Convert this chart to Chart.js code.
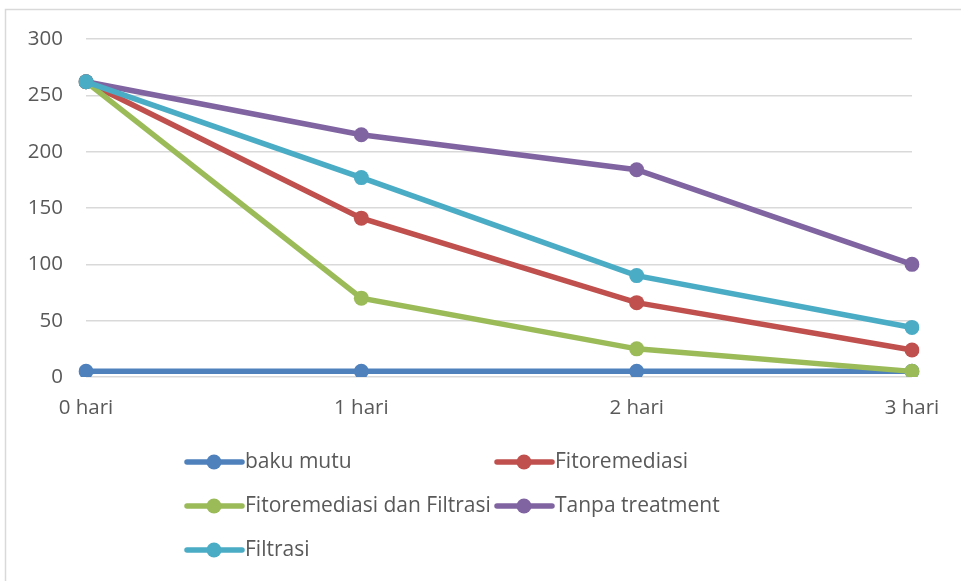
<!DOCTYPE html>
<html>
<head>
<meta charset="utf-8">
<script src="https://cdn.jsdelivr.net/npm/chart.js@4/dist/chart.umd.min.js"></script>
<style>
  html, body { margin: 0; padding: 0; background: #fff; overflow: hidden; }
  #wrap { position: relative; width: 961px; height: 581px; }
</style>
</head>
<body>
<div id="wrap"><canvas id="c" width="961" height="581"></canvas></div>
<script>
// Categories (days of treatment)
const days = ['0 hari', '1 hari', '2 hari', '3 hari'];

// Series values
const bakuMutu       = [5, 5, 5, 5];
const fitoremediasi  = [262, 141, 66, 24];
const fitoFiltrasi   = [262, 70, 25, 5];
const tanpaTreatment = [262, 215, 184, 100];
const filtrasi       = [262, 177, 90, 44];

// Y axis ticks
const yTicks = [0, 50, 100, 150, 200, 250, 300];

const seriesNames  = ['baku mutu', 'Fitoremediasi', 'Fitoremediasi dan Filtrasi', 'Tanpa treatment', 'Filtrasi'];
const seriesData   = [bakuMutu, fitoremediasi, fitoFiltrasi, tanpaTreatment, filtrasi];
const seriesColors = ['#4f81bd', '#c0504d', '#9bbb59', '#8064a2', '#4bacc6'];

const FONT = '"Open Sans"';
const TICK_SIZE = 20.5;
const LEGEND_SIZE = 21;
const TEXT = '#595959';

const datasets = seriesNames.map((name, i) => ({
  label: name,
  data: seriesData[i],
  borderColor: seriesColors[i],
  backgroundColor: seriesColors[i],
  pointBackgroundColor: seriesColors[i],
  pointBorderWidth: 0,
  pointRadius: 7.5,
  borderWidth: 5.5,
  tension: 0,
  fill: false,
  // later series are painted over earlier ones
  order: seriesNames.length - 1 - i
}));

// Thin grey frame around the chart area
const framePlugin = {
  id: 'frame',
  beforeDraw(chart) {
    const ctx = chart.ctx;
    ctx.save();
    ctx.fillStyle = '#fff';
    ctx.fillRect(0, 0, chart.width, chart.height);
    ctx.strokeStyle = '#d9d9d9';
    ctx.lineWidth = 1.5;
    ctx.strokeRect(5.5, 9.5, 2000, 2000);
    ctx.restore();
  }
};

// Two-column legend below the plot
const gridLegend = {
  id: 'gridLegend',
  afterDraw(chart) {
    const ctx = chart.ctx;
    const colX = [187, 497];
    const rowY = [462, 506, 550];
    ctx.save();
    ctx.font = LEGEND_SIZE + 'px ' + FONT;
    ctx.textBaseline = 'alphabetic';
    ctx.textAlign = 'left';
    chart.data.datasets.forEach((ds, i) => {
      const x = colX[i % 2];
      const y = rowY[Math.floor(i / 2)];
      ctx.strokeStyle = ds.borderColor;
      ctx.lineWidth = 5.5;
      ctx.lineCap = 'round';
      ctx.beginPath();
      ctx.moveTo(x, y);
      ctx.lineTo(x + 55, y);
      ctx.stroke();
      ctx.fillStyle = ds.borderColor;
      ctx.beginPath();
      ctx.arc(x + 27, y, 7.5, 0, Math.PI * 2);
      ctx.fill();
      ctx.fillStyle = TEXT;
      ctx.fillText(ds.label, x + 58, y + 5.5);
    });
    ctx.restore();
  }
};

new Chart(document.getElementById('c'), {
  type: 'line',
  data: { labels: days, datasets },
  plugins: [framePlugin, gridLegend],
  options: {
    responsive: false,
    animation: false,
    events: [],
    layout: { padding: { left: 0, top: 39, right: 49, bottom: 0 } },
    plugins: { legend: { display: false }, tooltip: { enabled: false } },
    scales: {
      x: {
        offset: false,
        grid: { display: false, drawTicks: false },
        border: { display: false },
        ticks: { color: TEXT, font: { family: FONT, size: TICK_SIZE }, padding: 19, maxRotation: 0 },
        afterFit(scale) { scale.height = 204; }
      },
      y: {
        min: yTicks[0],
        max: yTicks[yTicks.length - 1],
        afterBuildTicks(scale) { scale.ticks = yTicks.map(v => ({ value: v })); },
        grid: { color: '#d9d9d9', lineWidth: 1.5, drawTicks: false },
        border: { display: false },
        ticks: { color: TEXT, font: { family: FONT, size: TICK_SIZE }, padding: 23 },
        afterFit(scale) { scale.width = 86; }
      }
    }
  }
});
</script>
</body>
</html>
